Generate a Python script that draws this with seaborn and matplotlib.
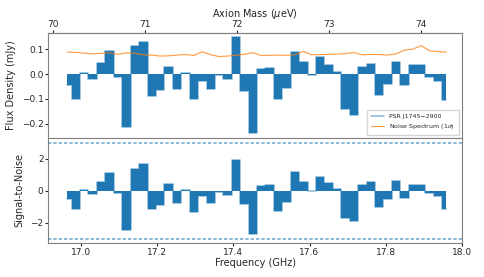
import numpy as np
import matplotlib
matplotlib.use("Agg")
import matplotlib.pyplot as plt
import seaborn as sns

# channel centres (GHz)
freq = [16.965, 16.987, 17.009, 17.031, 17.053, 17.076, 17.098, 17.120, 17.142, 17.164,
        17.186, 17.208, 17.230, 17.252, 17.274, 17.297, 17.319, 17.341, 17.363, 17.385,
        17.407, 17.429, 17.451, 17.473, 17.495, 17.518, 17.540, 17.562, 17.584, 17.606,
        17.628, 17.650, 17.672, 17.694, 17.716, 17.739, 17.761, 17.783, 17.805, 17.827,
        17.849, 17.871, 17.893, 17.915, 17.937, 17.959]

# flux density per channel (mJy)
flux = [-0.045, -0.099, 0.005, -0.018, 0.047, 0.094, -0.012, -0.212, 0.113, 0.128,
        -0.089, -0.065, 0.030, -0.061, 0.003, -0.099, -0.028, -0.061, -0.005, -0.018,
        0.148, -0.069, -0.237, 0.020, 0.026, -0.099, -0.054, 0.090, 0.051, -0.003,
        0.068, 0.039, 0.008, -0.140, -0.166, 0.030, 0.043, -0.082, -0.040, 0.049,
        -0.042, 0.035, 0.039, -0.011, -0.028, -0.103]

# 1 sigma noise spectrum (mJy)
noise = [0.089, 0.088, 0.085, 0.082, 0.084, 0.086, 0.080, 0.086, 0.084, 0.078,
         0.077, 0.073, 0.074, 0.077, 0.079, 0.076, 0.090, 0.078, 0.071, 0.073,
         0.076, 0.080, 0.087, 0.075, 0.076, 0.077, 0.076, 0.078, 0.092, 0.078,
         0.079, 0.080, 0.081, 0.083, 0.087, 0.078, 0.080, 0.079, 0.077, 0.082,
         0.097, 0.101, 0.115, 0.094, 0.091, 0.089]

GHZ_TO_UEV = 4.135667

freq = np.array(freq)
flux = np.array(flux)
noise = np.array(noise)
snr = flux / noise

sns.set_style("ticks", {"axes.edgecolor": "0.5", "xtick.color": "0.15", "ytick.color": "0.15"})
plt.rcParams["font.family"] = ["DejaVu Sans"]

fig, (ax1, ax2) = plt.subplots(2, 1, sharex=True, figsize=(4.84, 2.77), dpi=100)
fig.subplots_adjust(left=0.10, right=0.9545, top=0.88, bottom=0.124, hspace=0)

blue = sns.color_palette()[0]
orange = sns.color_palette()[1]

# top panel: flux density
ax1.fill_between(freq, flux, step="mid", color=blue, linewidth=0)
sns.lineplot(x=freq, y=flux, ax=ax1, color=blue, alpha=0.5, lw=1.2,
             drawstyle="steps-mid", label="PSR J1745\u22122900")
sns.lineplot(x=freq, y=noise, ax=ax1, color=orange, alpha=0.8, lw=0.8,
             label="Noise Spectrum (1$\\sigma$)")
ax1.set_ylim(-0.257, 0.165)
ax1.set_yticks([-0.2, -0.1, 0.0, 0.1])
ax1.set_ylabel("Flux Density (mJy)", fontsize=7)
ax1.legend(loc="lower right", fontsize=4.5, frameon=True, borderpad=0.6, handlelength=2.2)

sec = ax1.secondary_xaxis("top", functions=(lambda f: f * GHZ_TO_UEV, lambda m: m / GHZ_TO_UEV))
sec.set_xticks([70, 71, 72, 73, 74])
sec.set_xlabel("Axion Mass ($\\mu$eV)", fontsize=7, labelpad=2.5)
sec.tick_params(labelsize=6.5, length=2, pad=1)

# bottom panel: signal-to-noise
ax2.fill_between(freq, snr, step="mid", color=blue, linewidth=0)
sns.lineplot(x=freq, y=snr, ax=ax2, color=blue, alpha=0.5, lw=1.2, drawstyle="steps-mid")
ax2.axhline(3, color=blue, ls=(0, (2, 1.2)), lw=1.2, alpha=0.6)
ax2.axhline(-3, color=blue, ls=(0, (2, 1.2)), lw=1.2, alpha=0.6)
ax2.set_ylim(-3.25, 3.3)
ax2.set_yticks([-2, 0, 2])
ax2.set_ylabel("Signal-to-Noise", fontsize=7)
ax2.set_xlabel("Frequency (GHz)", fontsize=7, labelpad=1)
ax2.set_xlim(16.915, 18.0)
ax2.set_xticks([17.0, 17.2, 17.4, 17.6, 17.8, 18.0])

for ax in (ax1, ax2):
    ax.tick_params(labelsize=6.5, length=2, pad=1.5)
    for s in ax.spines.values():
        s.set_visible(True)
ax1.tick_params(axis="x", length=0)

fig.savefig("out.png", dpi=100)
